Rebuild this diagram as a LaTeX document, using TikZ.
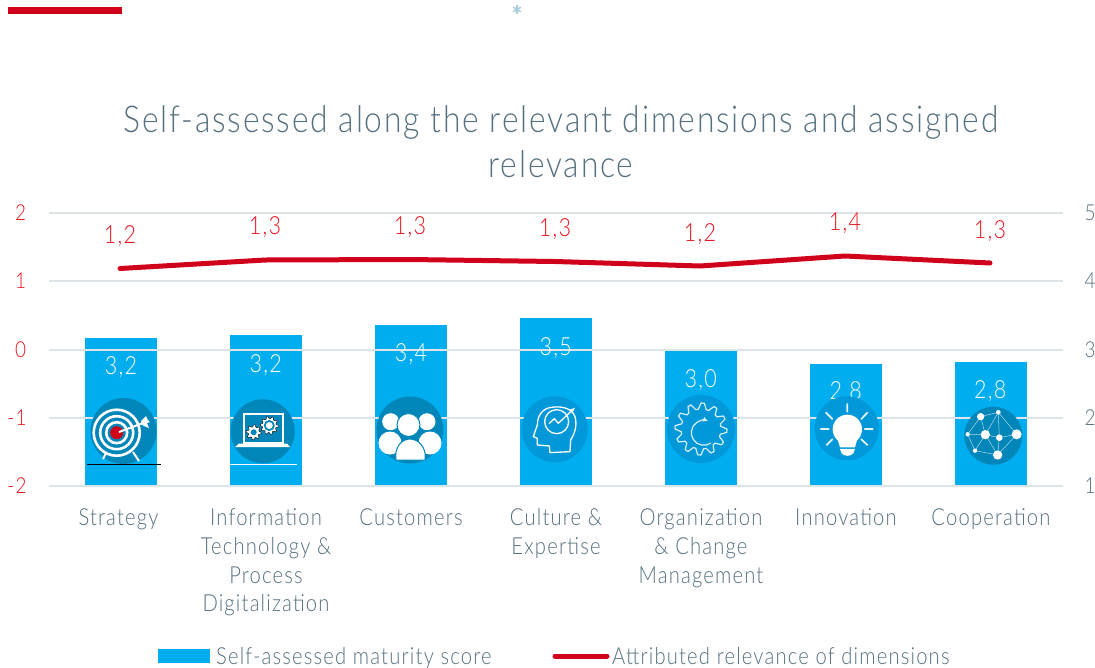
\documentclass[tikz,border=0pt]{standalone}
\usepackage{fontspec}
\setmainfont{Lato Light}[FakeStretch=0.86,LetterSpace=5]
\usetikzlibrary{arrows.meta}
\definecolor{barblue}{HTML}{00AEEF}
\definecolor{icondark}{HTML}{0086B8}
\definecolor{iconmid}{HTML}{0098D8}
\definecolor{relred}{HTML}{D0021B}
\definecolor{numred}{HTML}{E8141F}
\definecolor{slate}{HTML}{55707F}
\definecolor{gridc}{HTML}{DCE4E8}
\newcommand{\gearshape}[6]{% cx cy r1 r2 teeth options
  \draw[#6] plot[domain=0:360,samples=#5*4+1] ({#1+(mod(\x+1,360/#5)<180/#5?#3:#4)*cos(\x)},{#2+(mod(\x+1,360/#5)<180/#5?#3:#4)*sin(\x)}) -- cycle;}
\tikzset{
  barbox/.style={fill=barblue,draw=none,minimum width=72pt,inner sep=0pt,anchor=south},
  gridline/.style={draw=gridc,line width=1.6pt},
  relline/.style={draw=relred,line width=5pt,line cap=round},
  vallabel/.style={text=white,font=\fontsize{25}{28}\selectfont,inner sep=0pt},
  rellabel/.style={text=numred,font=\fontsize{25}{28}\selectfont,inner sep=0pt},
  leftaxis/.style={text=numred,font=\fontsize{22}{26}\selectfont,inner sep=0pt},
  rightaxis/.style={text=slate,font=\fontsize{22}{26}\selectfont,inner sep=0pt},
  catlabel/.style={text=slate,font=\fontsize{23.5}{28.7}\selectfont,align=center,anchor=north,inner sep=0pt},
  legendtext/.style={text=slate,font=\fontsize{23.5}{28}\selectfont,anchor=base west,inner sep=0pt},
  titletext/.style={text=slate,font=\fontsize{37}{45}\selectfont,align=center,inner sep=0pt},
  iconcircle/.style={circle,inner sep=0pt,draw=none},
  wl/.style={draw=white,line width=1.3pt,line join=round,line cap=round},
}
\begin{document}
\begin{tikzpicture}[x=1pt,y=-1pt]
\useasboundingbox (0,0) rectangle (1095,667);
% top decoration
\fill[relred] (8,7) rectangle (122,14);
\foreach \a in {0,60,120}
  \draw[draw=cyan!45!gray!55,line width=1.5pt] (517,9.5) ++(\a+30:4.5) -- ++(\a+210:9);
% title
\node[titletext] (title) at (561,142) {Self-assessed along the relevant dimensions and assigned\\relevance};
% bars
\node[barbox,minimum height=148pt] (bar1) at (121,486) {};
\node[barbox,minimum height=150.5pt] (bar2) at (266,486) {};
\node[barbox,minimum height=161pt] (bar3) at (411,486) {};
\node[barbox,minimum height=167.5pt] (bar4) at (556,486) {};
\node[barbox,minimum height=135pt] (bar5) at (701,486) {};
\node[barbox,minimum height=122pt] (bar6) at (846,486) {};
\node[barbox,minimum height=124pt] (bar7) at (991,486) {};
% grid
\foreach \n/\y in {a/213,b/281,c/349.7,d/417.8,e/486}{
  \coordinate (gl\n) at (49,\y);
  \coordinate (gr\n) at (1063,\y);
  \draw[gridline] (gl\n) -- (gr\n);
}
% axes
\node[leftaxis] (l2) at (20.5,213) {2};
\node[leftaxis] (l1) at (20.5,281) {1};
\node[leftaxis] (l0) at (20.5,350) {0};
\node[leftaxis] (lm1) at (17,418) {-1};
\node[leftaxis] (lm2) at (17,486) {-2};
\node[rightaxis] (r5) at (1090,213) {5};
\node[rightaxis] (r4) at (1090,281) {4};
\node[rightaxis] (r3) at (1090,350) {3};
\node[rightaxis] (r2) at (1090,418) {2};
\node[rightaxis] (r1) at (1090,486) {1};
% values
\node[vallabel] (v1) at (121,367.5) {3,2};
\node[vallabel] (v2) at (265.7,365) {3,2};
\node[vallabel] (v3) at (411,354) {3,4};
\node[vallabel] (v4) at (555.7,347.7) {3,5};
\node[vallabel] (v5) at (700.7,380) {3,0};
\node[vallabel] (v6) at (845.7,392.3) {2,8};
\node[vallabel] (v7) at (990.3,391) {2,8};
% relevance line
\coordinate (p1) at (120,268.5);
\coordinate (p2) at (265,260);
\coordinate (p3) at (410,259.5);
\coordinate (p4) at (555,261.5);
\coordinate (p5) at (700,266);
\coordinate (p6) at (845,256);
\coordinate (p7) at (990,263);
\draw[relline] (p1) -- (p2) -- (p3) -- (p4) -- (p5) -- (p6) -- (p7);
\node[rellabel] (r1l) at (120,236) {1,2};
\node[rellabel] (r2l) at (265,227) {1,3};
\node[rellabel] (r3l) at (410,227) {1,3};
\node[rellabel] (r4l) at (555,229) {1,3};
\node[rellabel] (r5l) at (700,234) {1,2};
\node[rellabel] (r6l) at (845,223) {1,4};
\node[rellabel] (r7l) at (990,231) {1,3};
% icon 1 target
\node[iconcircle,fill=icondark,minimum size=66pt] (i1) at (123.5,431) {};
\begin{scope}
  \draw[white,line width=2pt] (106,453) -- (103,459) (133,452) -- (139,461);
  \foreach \r in {23,16.5,10.5}
    \draw[white,line width=2.6pt] (116.7,432.7) circle[radius=\r];
  \fill[relred] (116.7,432.7) circle[radius=6.5];
  \draw[white,line width=2pt] (119,432) -- (143,423);
  \fill[white] (141,424) -- (141,421) -- (146,416) -- (148,420) -- (150,422) -- (147,423) -- (149,428) -- (144,426) -- cycle;
\end{scope}
\draw[black,line width=1pt] (87,464.3) -- (161,464.3);
% icon 2 laptop
\node[iconcircle,fill=icondark,minimum size=64pt] (i2) at (262.7,431.3) {};
\draw[white,line width=2pt] (243.5,413.5) rectangle (282.5,443);
\fill[white] (239,443.5) -- (287,443.5) -- (290,447) -- (235,447) -- cycle;
\gearshape{253.7}{432.3}{7.5}{5.5}{8}{fill=white}
\fill[icondark] (253.7,432.3) circle[radius=3];
\gearshape{269.3}{425.5}{9}{7}{10}{fill=white}
\fill[icondark] (269.3,425.5) circle[radius=5.5];
\fill[white] (269.3,425.5) circle[radius=3.5];
\draw[white,line width=1pt] (230,464.3) -- (297,464.3);
% icon 3 people
\node[iconcircle,fill=icondark,minimum size=67pt] (i3) at (410,430) {};
\fill[white] (390.7,421.7) circle[radius=8.5] (427,421.7) circle[radius=8.5];
\fill[white] (390,443) circle[radius=11.5] (430,443) circle[radius=11.5];
\draw[fill=white,draw=icondark,line width=1pt] (408.5,425) circle[radius=11.5];
\draw[fill=white,draw=icondark,line width=1pt] (396,460) .. controls (394,447) and (402,439) .. (410,439) .. controls (418,439) and (427,447) .. (425,460) -- cycle;
% icon 4 head
\node[iconcircle,fill=iconmid,minimum size=66pt] (i4) at (554.7,429.3) {};
\begin{scope}[shift={(500,300)},x=0.3333pt,y=-0.3333pt]
  \draw[wl] (150,458) -- (210,455) -- (212,420) .. controls (225,400) and (232,375) .. (225,350) .. controls (215,322) and (180,318) .. (155,322) .. controls (125,325) and (112,350) .. (112,375) -- (100,410) -- (112,415) -- (112,435) -- (148,438) -- cycle;
  \draw[wl] (170,365) circle[radius=36];
  \draw[wl,-{Latex[length=6pt,width=5pt]}] (148,370) -- (163,356) -- (175,370) -- (226,322);
\end{scope}
% icon 5 gear
\node[iconcircle,fill=iconmid,minimum size=68pt] (i5) at (701,429) {};
\gearshape{701}{429}{26}{20}{12}{draw=white!85!iconmid,line width=1.2pt,line join=round}
\draw[white!85!iconmid,line width=1.2pt,-{Latex[length=5pt,width=5pt]}] (711,443) arc[start angle=55,end angle=290,radius=12.5];
% icon 6 bulb
\node[iconcircle,fill=iconmid,minimum size=64pt] (i6) at (846.7,428.3) {};
\begin{scope}[shift={(790,340)},x=0.3333pt,y=-0.3333pt]
  \fill[white] (172,268) circle[radius=44];
  \fill[white] (140,290) -- (204,290) -- (195,322) -- (150,322) -- cycle;
  \fill[white] (150,327) -- (195,327) -- (190,340) .. controls (182,350) and (163,350) .. (155,340) -- cycle;
  \draw[white!90!iconmid,line width=1.7pt,line cap=round]
    (172,192) -- (172,215) (108,218) -- (127,237) (232,218) -- (214,237)
    (92,267) -- (116,267) (224,267) -- (248,267)
    (110,315) -- (127,298) (232,315) -- (214,298);
\end{scope}
% icon 7 network
\node[iconcircle,fill=icondark,minimum size=58pt] (i7) at (993.3,435.7) {};
\begin{scope}[shift={(790,340)},x=0.3333pt,y=-0.3333pt]
  \draw[white!70!icondark,line width=0.5pt]
    (572,230) -- (625,217) -- (680,283) -- (623,345) -- (555,332) -- (533,283) -- (572,230)
    (572,230) -- (586,284) -- (555,332) (586,284) -- (628,293) -- (625,217) (628,293) -- (680,283)
    (628,293) -- (623,345) (586,284) -- (625,217) (533,283) -- (586,284) (586,284) -- (623,345);
  \fill[white] (572,230) circle[radius=11] (625,217) circle[radius=7]
    (586,284) circle[radius=14] (680,283) circle[radius=15] (628,293) circle[radius=10]
    (533,283) circle[radius=6.5] (555,332) circle[radius=6.5] (623,345) circle[radius=14];
\end{scope}
% categories
\node[catlabel] (c1) at (118.5,508.5) {Strategy};
\node[catlabel] (c2) at (266,508.5) {Information\\Technology \&\\Process\\Digitalization};
\node[catlabel] (c3) at (411,508.5) {Customers};
\node[catlabel] (c4) at (556,508.5) {Culture \&\\Expertise};
\node[catlabel] (c5) at (701,508.5) {Organization\\\& Change\\Management};
\node[catlabel] (c6) at (846,508.5) {Innovation};
\node[catlabel] (c7) at (991,508.5) {Cooperation};
% legend
\fill[barblue] (158,649) rectangle (210,663);
\node[legendtext] (lg1) at (216,664) {Self-assessed maturity score};
\coordinate (ls) at (555,656);
\coordinate (le) at (607,656);
\draw[relline] (ls) -- (le);
\node[legendtext] (lg2) at (612,664) {Attributed relevance of dimensions};
\end{tikzpicture}
\end{document}
